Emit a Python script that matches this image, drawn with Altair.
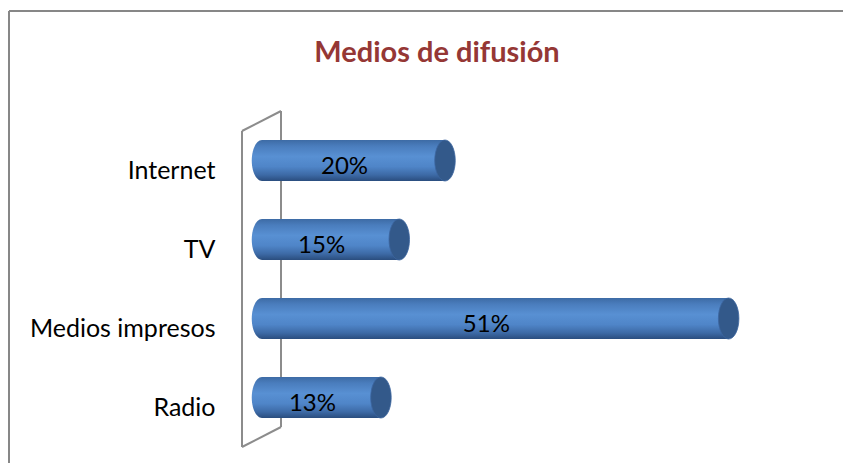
import altair as alt
import pandas as pd

# ---- data ----
categories = ["Internet", "TV", "Medios impresos", "Radio"]
values = [20, 15, 51, 13]
value_labels = ["20%", "15%", "51%", "13%"]
title_text = "Medios de difusión"

df = pd.DataFrame({"category": categories, "value": values, "label": value_labels})

FONT = "Lato"
WALL = "#8c8c8c"
BORDER = "#878787"

ELLIPSE = "M0,-1 A0.5,1 0 1,1 0,1 A0.5,1 0 1,1 0,-1 Z"
BAR_H = 41
ELL_SIZE = (BAR_H) ** 2

body_grad = alt.Gradient(
    gradient="linear", x1=0, y1=0, x2=0, y2=1,
    stops=[
        alt.GradientStop(color="#3d6ba5", offset=0),
        alt.GradientStop(color="#4a7dbd", offset=0.15),
        alt.GradientStop(color="#5890d3", offset=0.4),
        alt.GradientStop(color="#4f85c8", offset=0.65),
        alt.GradientStop(color="#3d6aa6", offset=0.85),
        alt.GradientStop(color="#2a4d7e", offset=1),
    ],
)

x_scale = alt.Scale(domain=[0, 60], nice=False, zero=True)
y_enc = alt.Y(
    "category:N", sort=categories,
    scale=alt.Scale(paddingInner=0, paddingOuter=0),
    axis=alt.Axis(title=None, domain=False, ticks=False, labelFont=FONT,
                  labelFontSize=25, labelColor="#000000", labelPadding=47,
                  labelOffset=10, labelLimit=400),
)

one = alt.Data(values=[{}])


def seg(x1, y1, x2, y2, color=WALL):
    return alt.Chart(one).mark_rule(color=color, strokeWidth=2).encode(
        x=alt.value(x1), x2=alt.value(x2), y=alt.value(y1), y2=alt.value(y2)
    )


# chart frame (top and left edges visible)
border_top = seg(-253, -110, 600, -110, BORDER)
border_left = seg(-253, -110, -253, 360, BORDER)

# 3D wall outline
wall_back = seg(19, -10, 19, 306)
wall_front = seg(-20, 10, -20, 326)
wall_top = seg(-20, 10, 19, -10)
wall_bottom = seg(-20, 326, 19, 306)

base = alt.Chart(df)

left_cap = base.mark_point(shape=ELLIPSE, size=ELL_SIZE, filled=True, fill=body_grad,
                           strokeWidth=0, opacity=1).encode(
    x=alt.datum(0, scale=x_scale, axis=None), y=y_enc
)

body = base.mark_bar(size=BAR_H, fill=body_grad).encode(
    x=alt.X("value:Q", scale=x_scale, axis=None), y=y_enc
)

right_cap = base.mark_point(shape=ELLIPSE, size=ELL_SIZE, filled=True, fill="#33598a",
                            stroke="#3c66a0", strokeWidth=0.8, opacity=1).encode(
    x=alt.X("value:Q", scale=x_scale, axis=None), y=y_enc
)

pct = base.transform_calculate(mid="datum.value / 2").mark_text(
    font=FONT, fontSize=24, color="#000000", dx=-9, dy=6, baseline="middle", align="center"
).encode(
    x=alt.X("mid:Q", scale=x_scale, axis=None), y=y_enc, text="label:N"
)

title = alt.Chart(one).mark_text(
    text=title_text, font=FONT, fontSize=29, fontWeight="bold", color="#953735",
    align="center", baseline="alphabetic"
).encode(x=alt.value(175), y=alt.value(-59))

chart = alt.layer(
    border_top, border_left,
    wall_back, wall_front, wall_top, wall_bottom,
    left_cap, body, right_cap, pct, title,
).properties(
    width=549, height=316,
    padding={"left": 254, "top": 113, "right": 32, "bottom": 26},
    autosize=alt.AutoSizeParams(type="none"),
    background="#ffffff",
).configure_view(stroke=None)

chart.save("out.html", embed_options={"renderer": "svg", "actions": False})
